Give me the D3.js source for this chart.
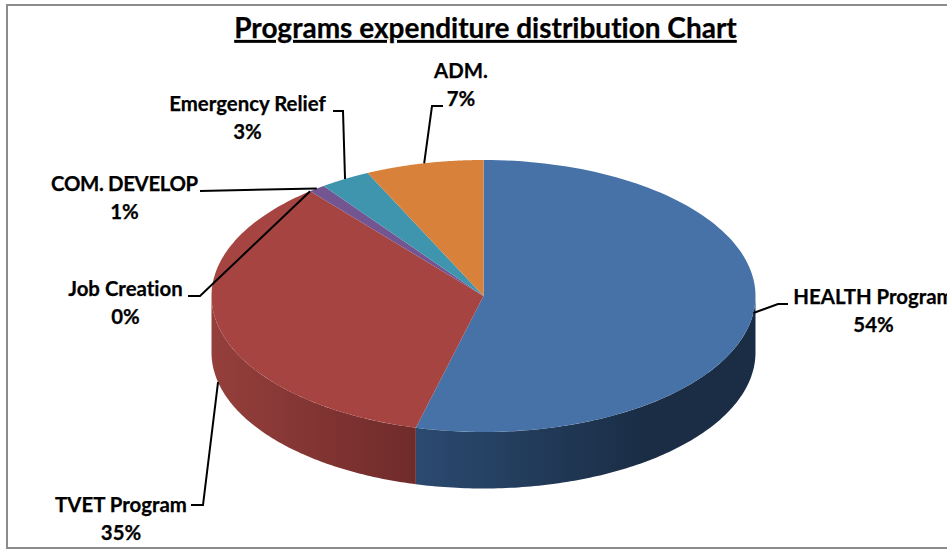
<!DOCTYPE html>
<html>
<head>
<meta charset="utf-8">
<script src="https://cdn.jsdelivr.net/npm/d3@7"></script>
<style>
  html, body { margin: 0; padding: 0; background: #fff; overflow: hidden; }
  svg { display: block; }
  text { font-family: Lato, "Open Sans", sans-serif; font-weight: 700; fill: #000; stroke: #000; stroke-width: 0.25px;
         font-variant-ligatures: none; }
</style>
</head>
<body>
<svg id="chart" width="947" height="550"></svg>
<script>
// Expenditure shares, clockwise from twelve o'clock
const programs = ["HEALTH Program", "TVET Program", "Job Creation", "COM. DEVELOP", "Emergency Relief", "ADM."];
const shares = [54, 35, 0, 1, 3, 7];
const topColors = ["#4672a8", "#a64442", "#a64442", "#735591", "#4095ae", "#d8813b"];
const sideColors = [["#2b4a70", "#1a2d45"], ["#953f3c", "#6f2b2a"], null, null, null, null];

const width = 947, height = 550;
const cx = 483.5, cy = 296, rx = 272, ry = 136, depth = 56.5;

// Label placement: centre of the text block and the elbow of its leader line
const labelCentres = [[873.5, 297], [121, 505], [125.5, 289], [124.5, 184], [247.5, 104], [461, 71]];
const labelLetterSpacing = [0, 0, 0, -0.35, 0, 0];
const leaderElbows = [[[778, 304], [788, 304]], [[203, 505], [191, 505]], [[200, 296], [188, 296]],
                      [[200, 191]], [[343, 111], [333, 111]], [[432, 106], [443, 106]]];

const svg = d3.select("#chart");
const defs = svg.append("defs");

// Frame of the chart area; its right edge runs past the page
svg.append("rect")
  .attr("x", 7).attr("y", 5).attr("width", width + 20).attr("height", 543)
  .attr("fill", "#fff").attr("stroke", "#8c8c8c").attr("stroke-width", 2);

// Title
svg.append("text")
  .attr("x", 485.5).attr("y", 38)
  .attr("text-anchor", "middle")
  .attr("font-size", 28)
  .attr("text-decoration", "underline")
  .text("Programs expenditure distribution Chart");

const arcs = d3.pie().value((d, i) => shares[i]).sort(null)(programs);

// Pie angle -> point on the tilted rim (0 = top, clockwise)
const rim = (a, drop = 0) => [cx + rx * Math.sin(a), cy - ry * Math.cos(a) + drop];
const rimPoints = (a0, a1, drop) =>
  d3.range(0, 121).map(k => rim(a0 + (a1 - a0) * k / 120, drop));
const line = d3.line();

// Outer wall: only the arc on the lower half of the ellipse is visible
arcs.forEach((d, i) => {
  if (!sideColors[i]) return;
  const a0 = Math.max(d.startAngle, Math.PI / 2);
  const a1 = Math.min(d.endAngle, Math.PI * 1.5);
  const upper = rimPoints(a0, a1, 0);
  const lower = rimPoints(a1, a0, depth);
  const xs = upper.map(p => p[0]);
  const id = "wall" + i;
  const grad = defs.append("linearGradient").attr("id", id)
    .attr("gradientUnits", "userSpaceOnUse")
    .attr("x1", d3.min(xs))
    .attr("x2", i === 0 ? d3.min(xs) + 230 : d3.max(xs))
    .attr("y1", 0).attr("y2", 0);
  grad.append("stop").attr("offset", 0).attr("stop-color", sideColors[i][0]);
  grad.append("stop").attr("offset", 1).attr("stop-color", sideColors[i][1]);
  svg.append("path")
    .attr("d", line(upper.concat(lower)) + "Z")
    .attr("fill", `url(#${id})`);
});

// Top face
svg.selectAll("path.slice")
  .data(arcs)
  .join("path")
  .attr("class", "slice")
  .attr("d", d => line([[cx, cy], ...rimPoints(d.startAngle, d.endAngle, 0)]) + "Z")
  .attr("fill", (d, i) => topColors[i]);

// Leader lines run from the middle of each slice's rim; the TVET one starts on the wall
arcs.forEach((d, i) => {
  const mid = (d.startAngle + d.endAngle) / 2;
  const start = rim(mid, i === 1 ? depth : 0);
  svg.append("path")
    .attr("d", line([start, ...leaderElbows[i]]))
    .attr("fill", "none").attr("stroke", "#000").attr("stroke-width", 2);
});

// Two-line labels: name above, percentage below
programs.forEach((name, i) => {
  const [x, y] = labelCentres[i];
  const label = svg.append("text")
    .attr("text-anchor", "middle").attr("font-size", 20.4);
  label.append("tspan").attr("x", x).attr("y", y + 7)
    .attr("letter-spacing", labelLetterSpacing[i]).text(name);
  label.append("tspan").attr("x", x).attr("y", y + 35).text(shares[i] + "%");
});
</script>
</body>
</html>
